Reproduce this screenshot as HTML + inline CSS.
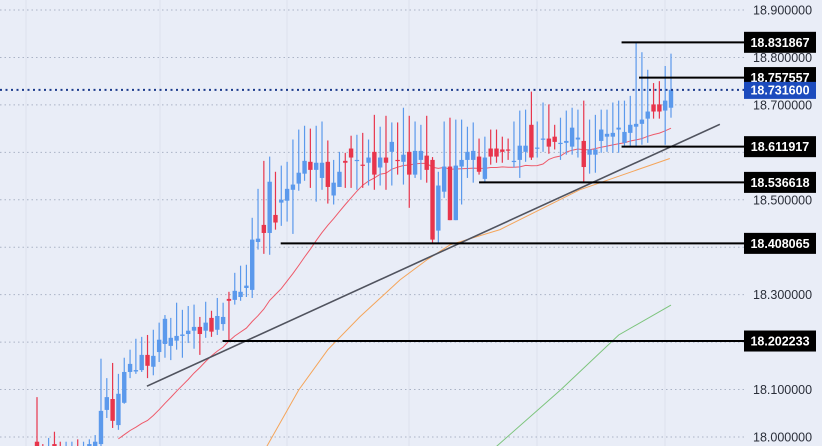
<!DOCTYPE html>
<html><head><meta charset="utf-8"><style>
html,body{margin:0;padding:0;background:#e9edf7;width:822px;height:446px;overflow:hidden;}
svg{display:block;font-family:"Liberation Sans",sans-serif;}
</style></head><body>
<svg id="chart" width="822" height="446" viewBox="0 0 822 446" xmlns="http://www.w3.org/2000/svg">
<rect x="0" y="0" width="822" height="446" fill="#e9edf7"/>
<g id="grid"></g><g id="mas"></g><g id="candles"></g><g id="drawings"></g><g id="axis"></g>
</svg>
<script>
const opens=[17.99,17.975,17.95,17.985,17.96,17.95,17.97,17.98,17.96,17.97,17.975,17.985,18.057,18.080,18.025,18.072,18.137,18.138,18.141,18.173,18.148,18.179,18.196,18.192,18.203,18.213,18.217,18.224,18.232,18.224,18.251,18.226,18.238,18.291,18.289,18.295,18.314,18.310,18.411,18.447,18.430,18.468,18.494,18.498,18.521,18.534,18.555,18.580,18.563,18.546,18.580,18.509,18.527,18.582,18.608,18.582,18.574,18.578,18.601,18.568,18.589,18.601,18.584,18.580,18.601,18.553,18.584,18.593,18.584,18.435,18.517,18.570,18.457,18.570,18.584,18.584,18.591,18.544,18.608,18.608,18.606,18.606,18.580,18.584,18.601,18.658,18.608,18.627,18.629,18.633,18.618,18.620,18.612,18.627,18.624,18.595,18.595,18.624,18.633,18.633,18.648,18.620,18.641,18.654,18.660,18.671,18.701,18.701,18.688,18.694];
const highs=[18.084,17.985,17.998,18.011,17.99,17.99,17.99,17.995,17.99,17.995,18.004,18.165,18.124,18.156,18.133,18.167,18.184,18.207,18.211,18.215,18.226,18.241,18.257,18.251,18.283,18.268,18.276,18.279,18.253,18.285,18.266,18.293,18.283,18.306,18.346,18.361,18.363,18.462,18.523,18.582,18.591,18.559,18.572,18.580,18.627,18.648,18.656,18.650,18.656,18.665,18.625,18.584,18.601,18.599,18.635,18.637,18.641,18.627,18.679,18.654,18.677,18.663,18.663,18.694,18.677,18.665,18.658,18.677,18.590,18.559,18.665,18.673,18.669,18.669,18.654,18.663,18.629,18.633,18.648,18.648,18.633,18.629,18.665,18.688,18.690,18.728,18.665,18.705,18.701,18.658,18.673,18.688,18.694,18.690,18.709,18.669,18.679,18.690,18.690,18.705,18.709,18.709,18.719,18.832,18.811,18.774,18.746,18.750,18.782,18.808];
const lows=[17.95,17.94,17.93,17.94,17.93,17.93,17.94,17.94,17.94,17.95,17.95,17.97,18.040,18.019,18.015,18.070,18.124,18.133,18.137,18.124,18.130,18.158,18.167,18.162,18.184,18.167,18.198,18.186,18.173,18.209,18.211,18.215,18.224,18.203,18.279,18.287,18.295,18.293,18.395,18.386,18.384,18.437,18.445,18.454,18.428,18.519,18.540,18.525,18.496,18.521,18.492,18.490,18.527,18.525,18.525,18.521,18.525,18.530,18.521,18.530,18.521,18.530,18.553,18.532,18.483,18.546,18.542,18.536,18.409,18.409,18.504,18.457,18.457,18.490,18.546,18.536,18.553,18.536,18.574,18.578,18.578,18.584,18.568,18.546,18.580,18.584,18.589,18.601,18.597,18.606,18.584,18.595,18.595,18.589,18.536,18.555,18.557,18.599,18.601,18.599,18.599,18.614,18.612,18.612,18.616,18.620,18.671,18.671,18.616,18.673];
const closes=[17.96,17.96,17.98,17.96,17.95,17.97,17.98,17.96,17.98,17.985,17.99,18.055,18.084,18.034,18.091,18.137,18.154,18.141,18.173,18.150,18.171,18.205,18.249,18.209,18.213,18.216,18.224,18.232,18.217,18.241,18.222,18.255,18.253,18.287,18.308,18.306,18.319,18.416,18.418,18.430,18.538,18.452,18.500,18.523,18.532,18.557,18.582,18.563,18.578,18.578,18.527,18.536,18.559,18.578,18.589,18.584,18.572,18.589,18.553,18.589,18.578,18.622,18.582,18.595,18.553,18.603,18.603,18.563,18.416,18.530,18.570,18.457,18.572,18.584,18.601,18.603,18.559,18.589,18.591,18.591,18.601,18.604,18.582,18.614,18.614,18.589,18.610,18.629,18.612,18.622,18.620,18.624,18.652,18.631,18.569,18.606,18.606,18.648,18.639,18.641,18.652,18.643,18.658,18.660,18.669,18.686,18.686,18.686,18.709,18.732];
const orangeIdx=[39.5,45,50,55.5,62.4,67,71,79.6,93.3,108.8];
const orangeVals=[17.98,18.099,18.184,18.253,18.331,18.373,18.405,18.437,18.521,18.587];
const greenIdx=[79,90,100,109];
const greenVals=[17.98,18.099,18.215,18.278];
const yTicks=[18.9,18.8,18.7,18.6,18.5,18.4,18.3,18.2,18.1,18.0];
const yLabels=["18.900000","18.800000","18.700000","","18.500000","","18.300000","","18.100000","18.000000"];
const levelVals=[18.831867,18.757557,18.611917,18.536618,18.408065,18.202233];
const levelStartIdx=[100.5,103.5,100.5,76,41.9,31.9];
const lastPrice=18.7316;
const trendIdx=[18.9,117.4];
const trendVals=[18.107,18.659];

const NS="http://www.w3.org/2000/svg";
const X0=37,STEP=634/109,PLOT_R=745;
function xOf(i){return X0+i*STEP;}
function yOf(v){return 10+(18.9-v)*474.4;}
function mk(tag,attrs,parent){const e=document.createElementNS(NS,tag);for(const k in attrs)e.setAttribute(k,attrs[k]);parent.appendChild(e);return e;}
const grid=document.getElementById('grid'),mas=document.getElementById('mas'),cg=document.getElementById('candles'),dr=document.getElementById('drawings'),ax=document.getElementById('axis');

[26,160,287,409,537,665].forEach(x=>{
  const l=mk('line',{x1:x,x2:x,y1:0,y2:446,stroke:'#dde1ec','stroke-width':1},grid);
  
  
});
yTicks.forEach((v,i)=>{
  const y=yOf(v);
  const l=mk('line',{x1:0,x2:PLOT_R,y1:y,y2:y,stroke:'#aab3c6','stroke-width':1,'stroke-dasharray':'1.5 3'},grid);
  
  
  if(yLabels[i]){
    const t=mk('text',{x:753,y:Math.min(y+4.5,443),'font-size':12.5,fill:'#2a2e39'},ax);
    t.textContent=yLabels[i];
    
    
  }
});

let pts=[];
for(let i=0;i<closes.length;i++){
  const s=Math.max(0,i-19);let sum=0;for(let j=s;j<=i;j++)sum+=closes[j];
  if(i>=14)pts.push(xOf(i).toFixed(1)+','+yOf(sum/(i-s+1)).toFixed(1));
}
const red=mk('polyline',{points:pts.join(' '),fill:'none',stroke:'#ee5a6a','stroke-width':1},mas);


const op=mk('polyline',{points:orangeIdx.map((d,i)=>xOf(d).toFixed(1)+','+yOf(orangeVals[i]).toFixed(1)).join(' '),fill:'none',stroke:'#f5a55a','stroke-width':1},mas);


const gp=mk('polyline',{points:greenIdx.map((d,i)=>xOf(d).toFixed(1)+','+yOf(greenVals[i]).toFixed(1)).join(' '),fill:'none',stroke:'#7cc47c','stroke-width':1},mas);



for(let i=0;i<opens.length;i++){
  const up=closes[i]>=opens[i];const col=up?'#5b99ec':'#e8354c';const x=xOf(i);
  const g=mk('g',{},cg);
  
  
  mk('line',{x1:x,x2:x,y1:yOf(highs[i]),y2:Math.min(446,yOf(lows[i])),stroke:col,'stroke-width':1.2},g);
  const t=yOf(Math.max(opens[i],closes[i])),b=Math.min(446,yOf(Math.min(opens[i],closes[i])));
  if(t<446)mk('rect',{x:x-2.2,y:t,width:4.4,height:Math.max(1.2,b-t),fill:col},g);
}

const tl=mk('line',{x1:xOf(trendIdx[0]),y1:yOf(trendVals[0]),x2:xOf(trendIdx[1]),y2:yOf(trendVals[1]),stroke:'#50535e','stroke-width':1.6},dr);



const lp=yOf(lastPrice);
const pl=mk('line',{x1:0,x2:PLOT_R,y1:lp,y2:lp,stroke:'#1b3a8c','stroke-width':2,'stroke-dasharray':'2 3.5'},dr);



levelVals.forEach((v,i)=>{
  const y=yOf(v);
  const l=mk('line',{x1:xOf(levelStartIdx[i]),x2:PLOT_R,y1:y,y2:y,stroke:'#000','stroke-width':2},dr);
  
  
});
levelVals.forEach(v=>{
  const y=yOf(v);
  const r=mk('rect',{x:744,y:y-10.5,width:72,height:21,fill:'#000'},ax);
  
  
  const t=mk('text',{x:780,y:y+4.5,'font-size':12.5,'font-weight':'bold',fill:'#fff','text-anchor':'middle'},ax);
  t.textContent=v.toFixed(6);
  
  
});
const br=mk('rect',{x:744,y:lp-8,width:72,height:17,fill:'#1c4bbd'},ax);


const bt=mk('text',{x:780,y:lp+4.5,'font-size':12.5,'font-weight':'bold',fill:'#fff','text-anchor':'middle'},ax);
bt.textContent=lastPrice.toFixed(6);


</script>
</body></html>
